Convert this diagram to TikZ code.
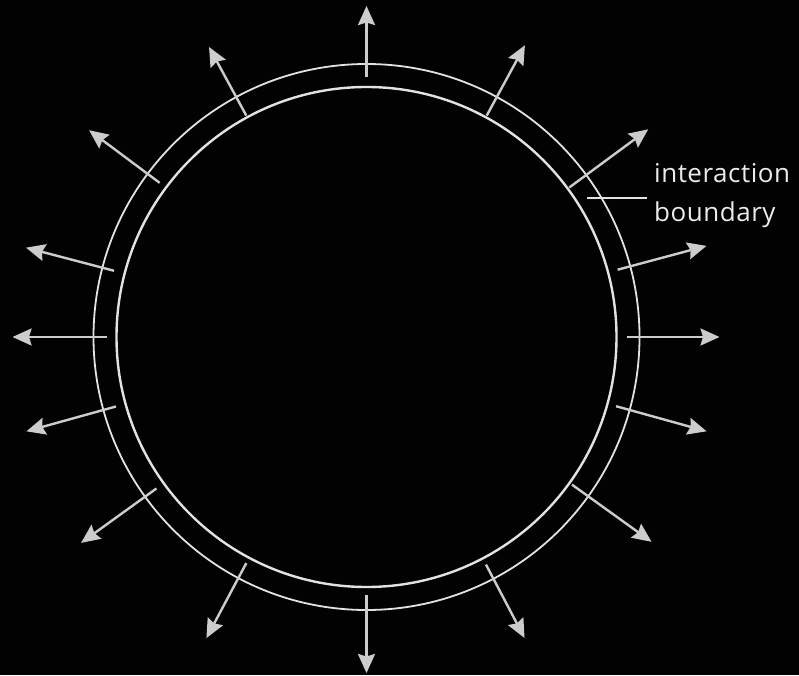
\documentclass[tikz,border=0pt]{standalone}
\usepackage{fontspec}
\setmainfont{Open Sans}
\newfontfamily\lblfont[LetterSpace=2]{Open Sans}
\usetikzlibrary{positioning, arrows.meta, calc}
\definecolor{cBG} {RGB}{3,2,3}
\definecolor{cRing}{RGB}{226,226,226}
\definecolor{cArr}{RGB}{204,204,204}
\definecolor{cTxt}{RGB}{235,235,235}
\tikzset{
  %% ring around the centre
  R/.style={draw=cRing, line width=#1},
  %% outward arrows
  A/.style={-{Stealth[length=19pt,width=17pt,inset=2.5pt]}, line width=2.4pt, color=cArr},
  %% label text
  L/.style={font=\lblfont\fontsize{26}{30}\selectfont, text=cTxt, inner sep=0pt, anchor=base west},
}
\begin{document}
\begin{tikzpicture}[x=1pt, y=1pt]

%% background (fixes the page to 799 x 675)
\fill[cBG] (0,0) rectangle (799,675);
\useasboundingbox (0,0) rectangle (799,675);

%% centre of both rings
\coordinate (c) at (366.5, 338);

%% inner and outer ring
\draw[R=2.4pt] (c) circle (250);
\draw[R=1.8pt] (c) circle (273);

%% radial arrows  angle / start radius / end radius
\foreach \a/\rs/\re in {
    90/260/331,   61.5/252/332,  36.4/252/350,  15/260/352,
    0/260/353,   -15.5/259/353, -35.7/253/351, -62.3/257/340,
   -90/258/336,  242/256/341,   215.8/259/352, 195.5/260/353,
   180/260/354,  165.3/261/352, 143.3/258/346, 118.5/252/330}
{
  \draw[A] ([shift={(\a:\rs)}]c) -- ([shift={(\a:\re)}]c);
}

%% label
\node[L] (lbl1) at (654, 492) {interaction};
\node[L] (lbl2) at (654, 453) {boundary};
\coordinate (tick) at (587, 477);
\draw[draw=cRing, line width=1.6pt, shorten >=7pt] (tick) -- (tick -| lbl1.west);

\end{tikzpicture}
\end{document}
